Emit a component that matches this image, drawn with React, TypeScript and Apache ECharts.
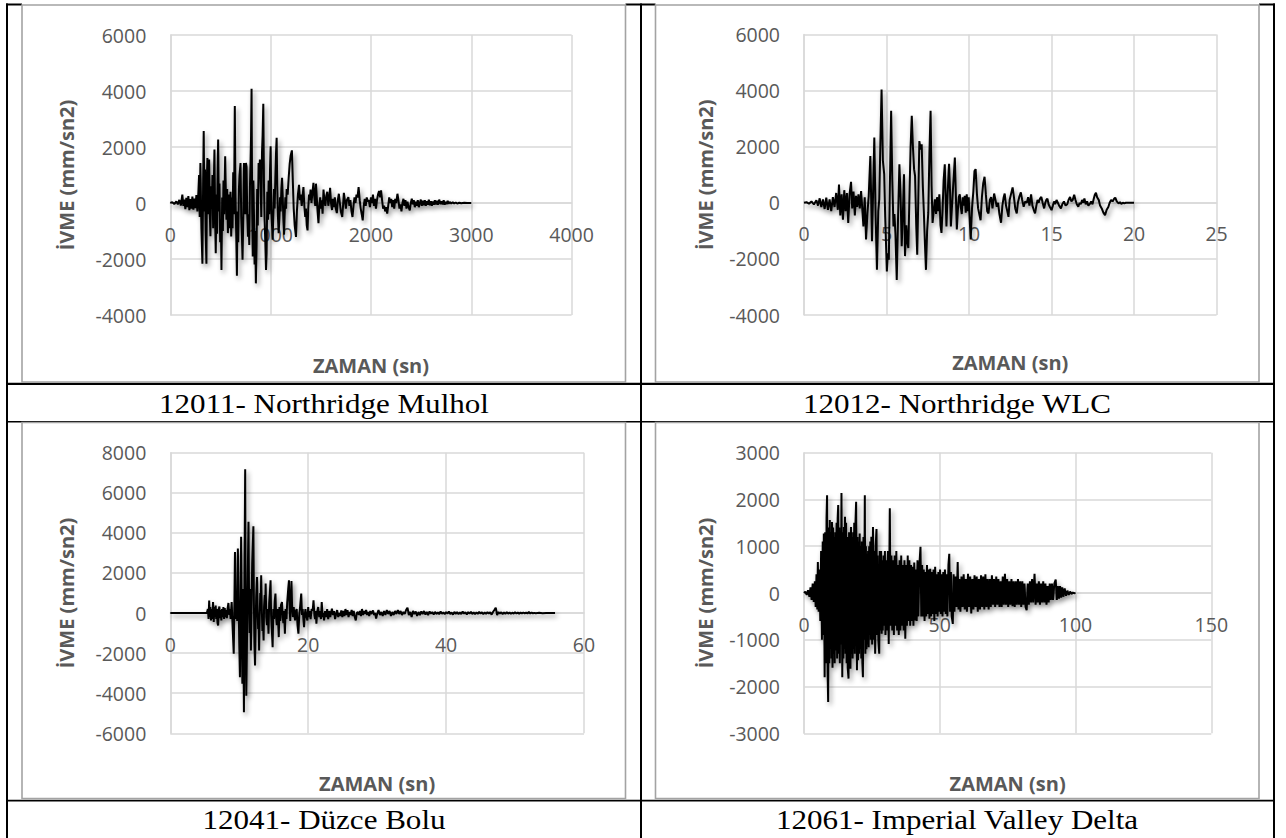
import React, { useEffect, useRef } from "react";
import * as echarts from "echarts";

// 12011- Northridge Mulhol : [zaman, ivme]
const mulholPoints: [number, number][] = [
  [0,0],[20,30],[40,-40],[60,60],[75,-50],[90,110],[105,-90],[120,300],[130,-100],[140,120],[150,-220],[160,180],[170,-150],[180,250],[190,-260],[200,140],[210,-200],[220,230],[230,-240],[240,160],[250,-180],[260,280],[270,-300],[280,400],[287,1000],[293,-500],[300,1430],[310,-900],[320,-2170],[327,600],[333,2570],[340,-300],[346,1200],[352,-1000],[360,-2170],[365,900],[370,1610],[378,-400],[387,1550],[394,-400],[400,-1190],[407,600],[414,-200],[420,1000],[427,-900],[434,700],[440,1910],[447,-600],[453,-1790],[460,300],[466,-1100],[472,1200],[477,2270],[484,-300],[490,700],[497,-1400],[504,-600],[510,-2390],[517,200],[524,-1000],[530,800],[537,-400],[547,1670],[554,300],[560,-600],[567,500],[574,-1075],[580,-1075],[587,300],[594,-900],[600,400],[607,-1200],[614,200],[620,-900],[627,1100],[635,-400],[643,3460],[650,200],[657,-1100],[664,-2600],[670,-300],[677,-1400],[684,500],[690,1000],[700,1430],[707,-500],[714,-1200],[720,-2030],[727,-600],[734,1430],[740,1430],[747,-400],[754,1430],[760,1300],[767,-400],[774,-1200],[780,-400],[787,-1500],[794,600],[800,1500],[805,2400],[810,4080],[816,-200],[822,-1910],[828,800],[834,-400],[840,-2200],[846,-1000],[853,-2870],[860,-1500],[866,500],[872,-800],[880,1430],[886,1000],[893,1550],[900,600],[907,-500],[914,1800],[920,2400],[927,3540],[934,600],[940,-600],[947,-1400],[954,-2390],[960,-1800],[967,400],[974,-600],[980,800],[987,-400],[994,1200],[1000,2030],[1007,-200],[1014,-800],[1020,-1310],[1027,-400],[1034,500],[1040,-200],[1047,900],[1054,1800],[1060,2330],[1066,600],[1073,-500],[1080,-1075],[1087,-600],[1094,200],[1100,-300],[1107,500],[1114,900],[1120,300],[1127,-600],[1134,-1130],[1140,-400],[1147,200],[1154,-200],[1160,500],[1170,300],[1180,900],[1190,1400],[1200,1700],[1212,1880],[1222,700],[1230,-200],[1240,-800],[1253,-1210],[1262,-300],[1272,300],[1283,650],[1292,100],[1300,300],[1310,-100],[1318,200],[1327,570],[1336,-100],[1345,-500],[1352,-200],[1360,-800],[1368,-980],[1375,-200],[1383,300],[1390,100],[1398,480],[1407,0],[1415,300],[1427,720],[1436,200],[1445,-100],[1452,690],[1460,200],[1468,-300],[1477,-720],[1485,-100],[1494,200],[1502,-200],[1510,100],[1518,-380],[1527,480],[1536,100],[1545,-100],[1555,250],[1565,400],[1575,-100],[1585,200],[1593,540],[1602,0],[1612,-250],[1620,150],[1630,-150],[1640,200],[1650,-200],[1660,-360],[1670,100],[1680,330],[1690,0],[1700,-300],[1714,-500],[1722,-100],[1730,360],[1740,100],[1750,-200],[1760,100],[1775,210],[1785,-100],[1795,100],[1806,-300],[1816,-500],[1826,-100],[1836,200],[1846,0],[1856,300],[1866,200],[1877,570],[1888,100],[1898,-200],[1908,-400],[1918,-620],[1928,-100],[1938,150],[1948,-100],[1958,200],[1968,50],[1979,100],[1990,-150],[2000,200],[2010,0],[2020,300],[2030,-100],[2040,150],[2050,-200],[2060,100],[2070,300],[2081,430],[2091,200],[2101,450],[2111,100],[2121,-200],[2131,-100],[2142,-300],[2152,-150],[2162,-380],[2172,-100],[2182,200],[2192,0],[2202,150],[2212,-150],[2222,100],[2232,-200],[2242,150],[2252,0],[2264,330],[2274,100],[2284,-200],[2294,-50],[2304,-300],[2314,0],[2324,150],[2334,-100],[2344,100],[2354,-200],[2364,50],[2375,-150],[2387,-260],[2397,0],[2407,150],[2417,-50],[2427,100],[2437,-150],[2447,50],[2457,-100],[2467,100],[2477,-150],[2487,0],[2497,120],[2507,-100],[2517,80],[2527,-80],[2537,100],[2547,-100],[2557,60],[2567,-60],[2577,120],[2587,-80],[2597,60],[2607,-100],[2617,50],[2627,-60],[2637,100],[2647,-50],[2657,80],[2667,-60],[2680,120],[2693,-40],[2705,60],[2715,-50],[2725,100],[2735,-60],[2745,40],[2755,-40],[2765,80],[2775,-30],[2785,40],[2800,-20],[2815,30],[2830,-20],[2845,20],[2860,-20],[2880,10],[2900,-10],[2930,5],[2960,0],[3000,0]
];

// 12012- Northridge WLC
const wlcPoints: [number, number][] = [
  [0,0],[0.15,20],[0.3,-30],[0.45,50],[0.6,-60],[0.75,90],[0.85,-100],[0.95,160],[1.05,-150],[1.15,120],[1.25,-220],[1.35,180],[1.45,-250],[1.55,120],[1.65,-300],[1.75,200],[1.85,-150],[1.95,350],[2.05,-250],[2.12,650],[2.2,-450],[2.28,300],[2.36,-600],[2.44,450],[2.52,-300],[2.6,350],[2.68,-720],[2.76,300],[2.85,750],[2.92,-200],[3.0,400],[3.08,-450],[3.15,250],[3.22,-150],[3.3,300],[3.38,-200],[3.46,420],[3.54,-300],[3.6,-840],[3.68,200],[3.76,-1310],[3.84,-400],[3.92,240],[4.02,1670],[4.12,-1370],[4.18,200],[4.26,2330],[4.34,-500],[4.42,-2390],[4.5,-300],[4.56,120],[4.63,2200],[4.7,4040],[4.78,1500],[4.86,1020],[4.92,-500],[5.02,-2450],[5.08,-1800],[5.14,-2030],[5.2,500],[5.28,3280],[5.35,800],[5.42,-840],[5.48,-400],[5.54,-1100],[5.62,-2750],[5.7,-500],[5.78,1370],[5.85,300],[5.92,-1550],[6.0,-200],[6.06,1020],[6.12,-1900],[6.2,-800],[6.26,-1400],[6.32,-1610],[6.4,500],[6.46,2000],[6.53,3100],[6.6,2000],[6.67,1200],[6.73,955],[6.8,-800],[6.86,-1850],[6.93,300],[6.99,2200],[7.06,1900],[7.13,2090],[7.2,600],[7.26,-300],[7.33,-1500],[7.39,-2390],[7.46,-1000],[7.53,-360],[7.6,1800],[7.67,3280],[7.73,600],[7.79,-720],[7.86,-300],[7.93,120],[8.0,-400],[8.06,200],[8.13,-300],[8.2,300],[8.27,-800],[8.33,-1075],[8.4,-200],[8.46,800],[8.53,1370],[8.58,200],[8.63,-840],[8.7,300],[8.79,1390],[8.85,400],[8.9,-840],[8.96,-200],[9.02,420],[9.08,1000],[9.14,1610],[9.2,300],[9.26,-950],[9.32,-300],[9.38,200],[9.44,300],[9.5,-150],[9.56,-400],[9.62,200],[9.68,-100],[9.74,250],[9.8,-350],[9.86,300],[9.92,-300],[9.98,200],[10.04,-600],[10.1,-1310],[10.18,-200],[10.26,400],[10.33,1130],[10.4,1200],[10.48,300],[10.55,-200],[10.62,-400],[10.7,-620],[10.78,200],[10.86,700],[10.94,930],[11.02,300],[11.1,-300],[11.18,-380],[11.26,100],[11.34,200],[11.42,-200],[11.52,330],[11.6,100],[11.68,-140],[11.76,0],[11.84,-400],[11.94,-710],[12.02,-100],[12.1,200],[12.16,330],[12.24,-100],[12.32,-300],[12.39,-500],[12.46,100],[12.54,300],[12.64,550],[12.72,200],[12.8,-200],[12.89,-380],[12.96,0],[13.04,200],[13.14,370],[13.22,100],[13.31,-140],[13.4,50],[13.5,0],[13.58,200],[13.66,-100],[13.76,300],[13.84,-100],[13.92,-250],[14.0,-380],[14.08,-100],[14.15,100],[14.22,0],[14.3,150],[14.38,210],[14.46,0],[14.55,-200],[14.62,0],[14.68,100],[14.75,150],[14.82,-50],[14.9,-150],[15.0,-260],[15.08,-100],[15.15,50],[15.22,-50],[15.3,100],[15.38,0],[15.46,-100],[15.57,-200],[15.65,-50],[15.75,50],[15.85,-100],[15.95,-50],[16.03,100],[16.12,210],[16.2,50],[16.28,100],[16.37,290],[16.45,100],[16.53,-50],[16.62,-140],[16.7,0],[16.77,-50],[16.85,100],[16.92,0],[16.99,150],[17.07,-50],[17.15,50],[17.23,-100],[17.32,-40],[17.4,50],[17.48,-50],[17.56,150],[17.63,300],[17.69,360],[17.76,200],[17.86,100],[17.94,-100],[18.04,-200],[18.14,-350],[18.24,-440],[18.34,-250],[18.44,-150],[18.52,0],[18.61,100],[18.7,50],[18.8,150],[18.86,180],[18.95,50],[19.06,-20],[19.15,20],[19.23,-40],[19.32,0],[19.41,-20],[19.5,0],[19.6,0],[20.0,0]
];

// 12041- Düzce Bolu
const duzcePoints: [number, number][] = [
  [0,0],[5.3,0],[5.45,200],[5.55,-300],[5.64,630],[5.72,-200],[5.8,300],[5.9,-370],[6.0,200],[6.1,-300],[6.2,550],[6.3,-450],[6.4,300],[6.5,-200],[6.58,380],[6.66,-300],[6.75,200],[6.85,-500],[6.94,-620],[7.04,200],[7.12,330],[7.2,-250],[7.3,150],[7.4,-370],[7.5,200],[7.6,-200],[7.7,300],[7.8,-300],[7.9,250],[8.0,-200],[8.1,150],[8.2,-250],[8.3,200],[8.43,500],[8.55,-100],[8.65,200],[8.75,-300],[8.9,550],[9.05,-800],[9.2,-2030],[9.3,500],[9.38,3050],[9.5,-300],[9.6,1000],[9.7,-400],[9.8,3220],[9.9,800],[10.0,-1500],[10.1,-3200],[10.2,500],[10.27,3800],[10.38,-1000],[10.45,-3530],[10.55,1200],[10.62,-2000],[10.68,-4950],[10.76,2000],[10.86,7170],[10.94,-1000],[11.02,-4120],[11.1,-2000],[11.2,1000],[11.34,4550],[11.42,800],[11.5,-1000],[11.6,1200],[11.69,-1870],[11.78,300],[11.88,2500],[12.05,4330],[12.12,600],[12.2,-1500],[12.29,-2620],[12.38,-500],[12.46,800],[12.58,1800],[12.66,200],[12.74,-800],[12.8,-200],[12.88,-1870],[12.96,-200],[13.05,1000],[13.12,500],[13.18,1880],[13.27,200],[13.36,-900],[13.44,-400],[13.53,-1370],[13.6,300],[13.7,900],[13.76,200],[13.83,1470],[13.92,-200],[14.02,-600],[14.12,200],[14.24,-1030],[14.34,500],[14.44,1000],[14.54,1630],[14.62,-100],[14.72,-800],[14.84,-1700],[14.94,200],[15.05,-300],[15.15,600],[15.25,970],[15.35,-200],[15.45,-600],[15.55,200],[15.65,-500],[15.73,-1200],[15.83,300],[15.95,-400],[16.05,400],[16.2,550],[16.3,-200],[16.4,-500],[16.5,100],[16.62,-1030],[16.72,200],[16.85,-300],[16.95,500],[17.1,1200],[17.21,1630],[17.3,200],[17.4,-400],[17.5,800],[17.57,1600],[17.66,400],[17.78,-200],[17.9,300],[18.0,-100],[18.1,-370],[18.2,100],[18.33,200],[18.45,-600],[18.58,-1030],[18.7,-100],[18.82,300],[18.99,970],[19.1,-100],[19.2,200],[19.3,-300],[19.4,-700],[19.5,-100],[19.6,200],[19.7,-100],[19.88,-370],[20.0,300],[20.1,-200],[20.2,100],[20.35,-300],[20.5,200],[20.65,100],[20.77,630],[20.9,-100],[21.0,-300],[21.1,100],[21.19,-530],[21.3,50],[21.45,300],[21.6,-200],[21.75,100],[21.85,-300],[21.96,550],[22.1,-200],[22.2,0],[22.3,-370],[22.45,100],[22.6,-200],[22.75,200],[22.9,-300],[23.05,100],[23.2,-200],[23.44,220],[23.6,-100],[23.75,100],[23.9,-300],[24.05,-50],[24.2,150],[24.35,-200],[24.5,0],[24.65,-150],[24.8,130],[24.95,-200],[25.1,100],[25.25,-150],[25.4,200],[25.55,-100],[25.7,150],[25.85,-200],[26.0,50],[26.15,-100],[26.3,150],[26.45,-150],[26.6,100],[26.75,-200],[26.9,-370],[27.05,0],[27.2,50],[27.35,-100],[27.5,100],[27.65,-150],[27.8,200],[27.95,-100],[28.1,100],[28.25,-50],[28.4,150],[28.55,-100],[28.7,50],[28.85,-150],[29.0,100],[29.15,-50],[29.4,130],[29.55,-100],[29.7,0],[29.85,-280],[30.0,-50],[30.2,150],[30.4,-100],[30.6,50],[30.8,-150],[31.0,100],[31.2,-100],[31.4,150],[31.6,-50],[31.8,100],[32.0,-150],[32.2,50],[32.4,-100],[32.6,100],[32.8,-50],[33.0,150],[33.2,-50],[33.4,100],[33.6,-100],[33.8,50],[34.0,-50],[34.2,150],[34.4,270],[34.6,-100],[34.8,50],[35.0,-200],[35.2,100],[35.4,-50],[35.6,80],[35.8,-150],[36.0,50],[36.2,-100],[36.4,80],[36.6,-50],[36.8,100],[37.0,-80],[37.2,50],[37.4,-100],[37.6,80],[37.8,-30],[38.0,50],[38.2,-80],[38.4,60],[38.6,-50],[38.8,40],[39.0,-60],[39.2,80],[39.4,-40],[39.6,30],[39.8,-60],[40.0,50],[40.2,-30],[40.4,80],[40.6,-50],[40.8,30],[41.0,-80],[41.2,60],[41.4,-40],[41.6,50],[41.8,-60],[42.0,30],[42.2,-50],[42.4,80],[42.6,-30],[42.8,40],[43.0,-70],[43.2,50],[43.4,-30],[43.6,60],[43.8,-50],[44.0,40],[44.2,-60],[44.4,30],[44.6,-40],[44.8,60],[45.0,-30],[45.2,40],[45.4,-60],[45.6,30],[45.8,-40],[46.0,50],[46.2,-30],[46.4,40],[46.6,-80],[46.8,50],[47.0,150],[47.2,270],[47.4,-100],[47.6,50],[47.8,-30],[48.0,40],[48.2,-50],[48.4,30],[48.6,-40],[48.8,50],[49.0,-30],[49.2,30],[49.4,-40],[49.6,20],[49.8,-30],[50.0,40],[50.2,-20],[50.4,30],[50.6,-30],[50.8,20],[51.0,-20],[51.2,30],[51.4,-20],[51.6,20],[51.8,-20],[52.0,50],[52.2,-20],[52.4,20],[52.6,-10],[52.8,10],[53.0,-10],[53.5,10],[54.0,-5],[54.5,5],[55.0,0],[55.8,0]
];

// 12061- Imperial Valley Delta
const deltaPoints: [number, number][] = [
  [0,0],[0.5,30],[1.0,-40],[1.5,60],[2.0,-80],[2.4,120],[2.8,-150],[3.2,200],[3.6,-190],[4.0,250],[4.3,-300],[4.6,400],[4.9,-350],[5.1,660],[5.4,-400],[5.7,500],[6.0,-600],[6.3,900],[6.6,-1000],[6.9,1100],[7.1,-900],[7.3,1270],[7.6,-1800],[7.8,1300],[8.1,-1500],[8.3,1600],[8.5,2090],[8.7,-1700],[8.9,-2330],[9.1,1400],[9.3,-1500],[9.5,1560],[9.7,-1200],[9.9,1300],[10.1,-1400],[10.3,1520],[10.5,-1600],[10.7,1400],[10.9,-1300],[11.1,1200],[11.3,-1500],[11.5,1300],[11.8,-1230],[12.0,1500],[12.2,-1400],[12.4,1600],[12.6,1880],[12.8,-1300],[13.0,1400],[13.2,-1500],[13.4,1200],[13.6,-1100],[13.8,2140],[14.1,-1800],[14.3,1300],[14.5,-1400],[14.7,1410],[14.9,-1200],[15.1,1630],[15.3,-1300],[15.5,1500],[15.7,-1500],[15.9,1200],[16.1,-1600],[16.4,-1830],[16.6,1300],[16.8,-1400],[17.1,-1620],[17.3,1410],[17.5,-1300],[17.7,1200],[17.9,-1400],[18.1,1300],[18.3,-1200],[18.5,1500],[18.7,-1300],[18.9,1400],[19.2,1950],[19.5,-1650],[19.7,1200],[19.9,-1440],[20.1,1100],[20.3,-1300],[20.5,1270],[20.7,-1200],[20.9,1000],[21.1,-1400],[21.3,1100],[21.5,-1500],[21.7,-1800],[21.9,1200],[22.1,-1000],[22.4,2090],[22.6,-1300],[22.8,1000],[23.0,-1200],[23.2,840],[23.4,-1100],[23.6,900],[23.8,-1160],[24.0,1000],[24.2,-900],[24.4,1100],[24.6,-1000],[24.8,1200],[25.1,-1100],[25.4,1410],[25.7,-1000],[25.9,900],[26.2,-1300],[26.4,1000],[26.7,1370],[26.9,-900],[27.1,800],[27.4,-1000],[27.7,-1300],[27.9,900],[28.1,-800],[28.4,900],[28.6,-870],[28.8,700],[29.0,-800],[29.3,800],[29.5,-700],[29.8,900],[30.0,-900],[30.3,700],[30.6,-800],[30.9,900],[31.2,-1090],[31.6,1810],[31.9,-700],[32.2,800],[32.5,-800],[32.8,700],[33.1,-900],[33.4,800],[33.7,-700],[34.0,900],[34.3,-800],[34.6,600],[34.9,-900],[35.2,700],[35.5,-800],[35.8,800],[36.1,-700],[36.4,600],[36.7,-800],[37.0,700],[37.3,-980],[37.6,600],[37.9,-700],[38.2,800],[38.5,-600],[38.8,700],[39.1,-700],[39.4,600],[39.7,-600],[40.0,560],[40.3,-700],[40.6,650],[40.9,-590],[41.2,500],[41.5,-600],[41.8,700],[42.1,-500],[42.5,600],[42.9,990],[43.2,-500],[43.5,600],[43.8,-500],[44.1,500],[44.4,-600],[44.7,450],[45.0,-500],[45.3,600],[45.6,-450],[45.9,500],[46.2,-550],[46.5,520],[46.8,-500],[47.1,450],[47.4,-450],[47.7,500],[48.0,-600],[48.3,560],[48.6,-450],[48.9,400],[49.2,-500],[49.5,450],[49.8,-400],[50.1,500],[50.4,-450],[50.7,400],[51.0,-500],[51.3,450],[51.6,-400],[51.9,500],[52.2,-450],[52.5,400],[52.8,-500],[53.2,600],[53.5,840],[53.8,-400],[54.1,450],[54.4,-500],[54.8,-660],[55.1,400],[55.4,-400],[55.8,350],[56.2,-300],[56.6,660],[56.9,-350],[57.2,300],[57.6,-400],[58.0,350],[58.4,-300],[58.8,400],[59.2,-350],[59.6,300],[60.0,-400],[60.4,410],[60.8,-300],[61.2,350],[61.6,-440],[62.0,300],[62.4,-350],[62.8,380],[63.2,-300],[63.6,350],[64.0,-400],[64.4,300],[64.8,-350],[65.2,380],[65.6,-300],[66.0,350],[66.4,-350],[66.8,400],[67.2,-300],[67.6,300],[68.0,-350],[68.4,300],[68.8,-300],[69.2,380],[69.6,-250],[70.0,300],[70.4,-300],[70.8,350],[71.2,-250],[71.6,300],[72.0,-300],[72.4,250],[72.8,-300],[73.2,350],[73.6,-250],[74.0,410],[74.4,-250],[74.8,300],[75.2,-300],[75.6,250],[76.0,-250],[76.4,300],[76.8,-280],[77.2,250],[77.6,-300],[78.0,250],[78.4,-250],[78.8,300],[79.2,-250],[79.6,250],[80.0,-300],[80.4,250],[80.8,-250],[81.2,200],[81.6,-300],[82.0,-370],[82.4,200],[82.8,-250],[83.2,250],[83.6,-200],[84.0,300],[84.4,-200],[84.9,410],[85.3,-250],[85.7,200],[86.1,-200],[86.5,250],[86.9,-250],[87.3,200],[87.7,-200],[88.1,250],[88.5,-200],[88.9,200],[89.3,-250],[89.7,150],[90.1,-200],[90.5,200],[90.9,-150],[91.3,200],[91.7,-150],[92.2,200],[92.7,290],[93.1,-150],[93.5,150],[93.9,-120],[94.3,150],[94.7,-100],[95.1,120],[95.5,-80],[96.0,100],[96.5,-60],[97.0,50],[97.5,-40],[98.0,30],[98.5,-20],[99.0,10],[99.5,-5],[100,0]
];

const captions = [
  "12011- Northridge Mulhol",
  "12012- Northridge WLC",
  "12041- Düzce Bolu",
  "12061- Imperial Valley Delta",
];
const xAxisTitle = "ZAMAN (sn)";
const yAxisTitle = "İVME (mm/sn2)";

const xMaxes = [4000, 25, 60, 150];
const xIntervals = [1000, 5, 20, 50];
const yMins = [-4000, -4000, -6000, -3000];
const yMaxes = [6000, 6000, 8000, 3000];
const yIntervals = [2000, 2000, 2000, 1000];

const seriesData = [mulholPoints, wlcPoints, duzcePoints, deltaPoints];

const layouts = [
  { left: 170.3, top: 35, width: 401.3, height: 280, xNameGap: 152, yNameGap: 94 },
  { left: 804, top: 34.5, width: 412.6, height: 280.5, xNameGap: 150, yNameGap: 89 },
  { left: 170.3, top: 452.7, width: 413.7, height: 280.6, xNameGap: 160, yNameGap: 94 },
  { left: 804, top: 452.7, width: 407.3, height: 280.6, xNameGap: 180, yNameGap: 89 },
];

const frames = [
  { x: 22, y: 5, w: 603.5, h: 377 },
  { x: 655.5, y: 5, w: 603.5, h: 377 },
  { x: 22, y: 422.5, w: 603.5, h: 376 },
  { x: 655.5, y: 422.5, w: 603.5, h: 376 },
];

const captionPos = [
  { x: 324, y: 403.5 },
  { x: 957, y: 403.5 },
  { x: 324, y: 820 },
  { x: 957, y: 820 },
];

const FONT = "'Open Sans', 'Liberation Sans', sans-serif";
const GRAY = "#595959";
const GRID_LINE = "#d9d9d9";

export default function App() {
  const ref = useRef<HTMLDivElement>(null);

  useEffect(() => {
    if (!ref.current) return;
    const chart = echarts.init(ref.current, null, { renderer: "svg" });

    const blackRects = [
      { x: 6, y: 3.5, w: 16, h: 2 },
      { x: 625.5, y: 3.5, w: 30, h: 2 },
      { x: 1259, y: 3.5, w: 16, h: 2 },
      { x: 6, y: 3.5, w: 2, h: 835 },
      { x: 640, y: 3.5, w: 2, h: 835 },
      { x: 1273, y: 3.5, w: 2, h: 835 },
      { x: 6, y: 382.8, w: 1269, h: 2.2 },
      { x: 6, y: 421, w: 1269, h: 1.6 },
      { x: 6, y: 799.8, w: 1269, h: 1.8 },
    ];

    const graphics: any[] = [];
    blackRects.forEach((r) =>
      graphics.push({
        type: "rect",
        silent: true,
        shape: { x: r.x, y: r.y, width: r.w, height: r.h },
        style: { fill: "#000" },
      })
    );
    frames.forEach((f) =>
      graphics.push({
        type: "rect",
        silent: true,
        shape: { x: f.x, y: f.y, width: f.w, height: f.h },
        style: { fill: "none", stroke: "#a3a3a3", lineWidth: 1.6 },
      })
    );
    captions.forEach((c, i) =>
      graphics.push({
        type: "text",
        silent: true,
        x: captionPos[i].x,
        y: captionPos[i].y,
        scaleX: 1.15,
        style: {
          text: c,
          fontFamily: "'Liberation Serif', 'Times New Roman', serif",
          fontSize: 27,
          fill: "#000",
          align: "center",
          verticalAlign: "middle",
        },
      })
    );

    const option: any = {
      animation: false,
      backgroundColor: "#ffffff",
      grid: layouts.map((l) => ({
        left: l.left,
        top: l.top,
        width: l.width,
        height: l.height,
        containLabel: false,
      })),
      xAxis: layouts.map((l, i) => ({
        type: "value",
        gridIndex: i,
        position: "bottom",
        // x axis crosses the vertical axis at zero (as in the original)
        offset: -(l.height * (0 - yMins[i])) / (yMaxes[i] - yMins[i]),
        min: 0,
        max: xMaxes[i],
        interval: xIntervals[i],
        name: xAxisTitle,
        nameLocation: "middle",
        nameGap: l.xNameGap,
        nameTextStyle: { fontFamily: FONT, fontWeight: "bold", fontSize: 20, color: GRAY },
        axisLine: { show: true, onZero: false, lineStyle: { color: GRID_LINE, width: 1.5 } },
        axisTick: { show: false },
        axisLabel: {
          margin: 21,
          fontFamily: FONT,
          fontSize: 19.5,
          color: GRAY,
          formatter: (v: number) => String(v),
        },
        splitLine: { show: true, lineStyle: { color: GRID_LINE, width: 1.5 } },
      })),
      yAxis: layouts.map((l, i) => ({
        type: "value",
        gridIndex: i,
        position: "left",
        min: yMins[i],
        max: yMaxes[i],
        interval: yIntervals[i],
        name: yAxisTitle,
        nameLocation: "middle",
        nameRotate: 90,
        nameGap: l.yNameGap,
        nameTextStyle: { fontFamily: FONT, fontWeight: "bold", fontSize: 20, color: GRAY },
        axisLine: { show: true, onZero: false, lineStyle: { color: GRID_LINE, width: 1.5 } },
        axisTick: { show: false },
        axisLabel: {
          margin: 24,
          fontFamily: FONT,
          fontSize: 19.5,
          color: GRAY,
          formatter: (v: number) => String(v),
        },
        splitLine: { show: true, lineStyle: { color: GRID_LINE, width: 1.5 } },
      })),
      series: seriesData.map((d, i) => ({
        type: "line",
        xAxisIndex: i,
        yAxisIndex: i,
        data: d,
        showSymbol: false,
        symbol: "none",
        silent: true,
        z: 3,
        lineStyle: {
          color: "#000",
          width: 2,
          shadowColor: "rgba(0,0,0,0.45)",
          shadowBlur: 5,
          shadowOffsetX: 2,
          shadowOffsetY: 3,
        },
      })),
      graphic: { elements: graphics },
    };

    chart.setOption(option);
    return () => chart.dispose();
  }, []);

  return (
    <div
      ref={ref}
      style={{ position: "absolute", left: 0, top: 0, width: 1286, height: 838, background: "#fff" }}
    />
  );
}
